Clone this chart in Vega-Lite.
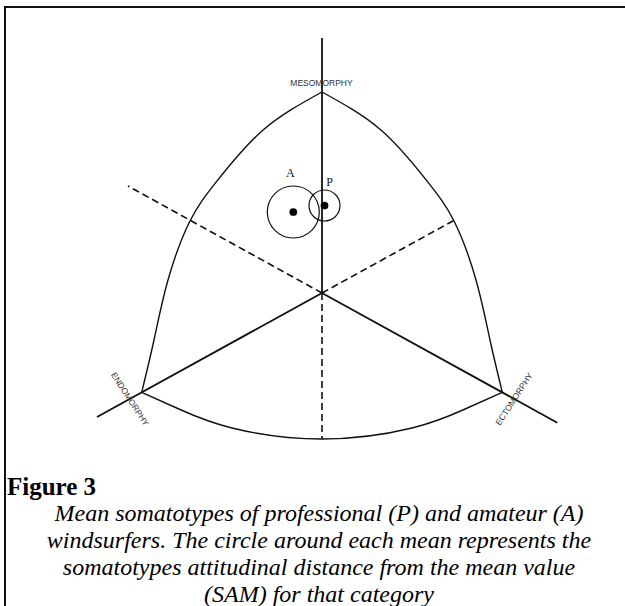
{
  "$schema": "https://vega.github.io/schema/vega-lite/v6.json",
  "width": 625,
  "height": 606,
  "autosize": {"type": "none"},
  "padding": 0,
  "background": "white",
  "config": {"view": {"stroke": null}},
  "datasets": {
    "solid": [
      {"seg": "meso", "i": 0, "x": 0, "y": 12.75},
      {"seg": "meso", "i": 1, "x": 0, "y": 0},
      {"seg": "endo", "i": 0, "x": -11.25, "y": -6.2},
      {"seg": "endo", "i": 1, "x": 0, "y": 0},
      {"seg": "ecto", "i": 0, "x": 0, "y": 0},
      {"seg": "ecto", "i": 1, "x": 11.765, "y": -6.485}
    ],
    "dashed": [
      {"seg": "ul", "i": 0, "x": 0, "y": 0},
      {"seg": "ul", "i": 1, "x": -9.7, "y": 5.35},
      {"seg": "ur", "i": 0, "x": 0, "y": 0},
      {"seg": "ur", "i": 1, "x": 6.65, "y": 3.66},
      {"seg": "down", "i": 0, "x": 0, "y": 0},
      {"seg": "down", "i": 1, "x": 0, "y": -7.3}
    ],
    "arcs": [
      {"seg": "L", "i": 0, "x": 0, "y": 10.05},
      {"seg": "L", "i": 1, "x": -2.945, "y": 8.15},
      {"seg": "L", "i": 2, "x": -5.21, "y": 5.65},
      {"seg": "L", "i": 3, "x": -6.6, "y": 3.6},
      {"seg": "L", "i": 4, "x": -7.7, "y": 0.65},
      {"seg": "L", "i": 5, "x": -8.4, "y": -2.35},
      {"seg": "L", "i": 6, "x": -9.015, "y": -4.965},
      {"seg": "R", "i": 0, "x": 0, "y": 10.05},
      {"seg": "R", "i": 1, "x": 2.945, "y": 8.15},
      {"seg": "R", "i": 2, "x": 5.21, "y": 5.65},
      {"seg": "R", "i": 3, "x": 6.6, "y": 3.6},
      {"seg": "R", "i": 4, "x": 7.7, "y": 0.65},
      {"seg": "R", "i": 5, "x": 8.4, "y": -2.35},
      {"seg": "R", "i": 6, "x": 9.015, "y": -4.965},
      {"seg": "B", "i": 0, "x": -9.015, "y": -4.965},
      {"seg": "B", "i": 1, "x": -7.1, "y": -5.825},
      {"seg": "B", "i": 2, "x": -4.5, "y": -6.75},
      {"seg": "B", "i": 3, "x": 0, "y": -7.3},
      {"seg": "B", "i": 4, "x": 4.5, "y": -6.75},
      {"seg": "B", "i": 5, "x": 7.1, "y": -5.825},
      {"seg": "B", "i": 6, "x": 9.015, "y": -4.965}
    ],
    "means": [
      {"group": "A", "x": -1.435, "y": 4.05, "sam": 1.3},
      {"group": "P", "x": 0.125, "y": 4.375, "sam": 0.775}
    ]
  },
  "layer": [
    {
      "data": {"values": [{"k": 1}]},
      "mark": {"type": "rect", "filled": false, "stroke": "#111", "strokeWidth": 2},
      "encoding": {
        "x": {"datum": -15.85, "type": "quantitative", "scale": {"domain": [-16.1, 15.15], "nice": false, "zero": false}, "axis": null},
        "x2": {"datum": 16.5},
        "y": {"datum": 14.3, "type": "quantitative", "scale": {"domain": [-15.65, 14.65], "nice": false, "zero": false}, "axis": null},
        "y2": {"datum": -16.5}
      }
    },
    {
      "data": {"name": "arcs"},
      "mark": {"type": "line", "interpolate": "natural", "stroke": "#111", "strokeWidth": 1.4},
      "encoding": {
        "x": {"field": "x", "type": "quantitative", "scale": {"domain": [-16.1, 15.15], "nice": false, "zero": false}, "axis": null},
        "y": {"field": "y", "type": "quantitative", "scale": {"domain": [-15.65, 14.65], "nice": false, "zero": false}, "axis": null},
        "detail": {"field": "seg"},
        "order": {"field": "i"}
      }
    },
    {
      "data": {"name": "solid"},
      "mark": {"type": "line", "stroke": "#111", "strokeWidth": 1.8},
      "encoding": {
        "x": {"field": "x", "type": "quantitative", "scale": {"domain": [-16.1, 15.15], "nice": false, "zero": false}, "axis": null},
        "y": {"field": "y", "type": "quantitative", "scale": {"domain": [-15.65, 14.65], "nice": false, "zero": false}, "axis": null},
        "detail": {"field": "seg"},
        "order": {"field": "i"}
      }
    },
    {
      "data": {"name": "dashed"},
      "mark": {"type": "line", "stroke": "#111", "strokeWidth": 1.6, "strokeDash": [7, 4]},
      "encoding": {
        "x": {"field": "x", "type": "quantitative", "scale": {"domain": [-16.1, 15.15], "nice": false, "zero": false}, "axis": null},
        "y": {"field": "y", "type": "quantitative", "scale": {"domain": [-15.65, 14.65], "nice": false, "zero": false}, "axis": null},
        "detail": {"field": "seg"},
        "order": {"field": "i"}
      }
    },
    {
      "data": {"name": "means"},
      "mark": {"type": "point", "shape": "circle", "filled": false, "stroke": "#111", "strokeWidth": 1.2, "opacity": 1},
      "encoding": {
        "x": {"field": "x", "type": "quantitative", "scale": {"domain": [-16.1, 15.15], "nice": false, "zero": false}, "axis": null},
        "y": {"field": "y", "type": "quantitative", "scale": {"domain": [-15.65, 14.65], "nice": false, "zero": false}, "axis": null},
        "size": {"field": "sam", "type": "quantitative", "scale": {"type": "pow", "exponent": 2, "domain": [0, 1.3], "range": [0, 2704]}, "legend": null}
      }
    },
    {
      "data": {"name": "means"},
      "mark": {"type": "point", "shape": "circle", "filled": true, "color": "#000", "size": 60, "opacity": 1},
      "encoding": {
        "x": {"field": "x", "type": "quantitative", "scale": {"domain": [-16.1, 15.15], "nice": false, "zero": false}, "axis": null},
        "y": {"field": "y", "type": "quantitative", "scale": {"domain": [-15.65, 14.65], "nice": false, "zero": false}, "axis": null}
      }
    },
    {
      "data": {"name": "means"},
      "transform": [{"filter": "datum.group === 'A'"}],
      "mark": {"type": "text", "font": "Liberation Serif", "fontSize": 12, "color": "#111", "dx": -3, "dy": -39, "baseline": "middle"},
      "encoding": {
        "x": {"field": "x", "type": "quantitative", "scale": {"domain": [-16.1, 15.15], "nice": false, "zero": false}, "axis": null},
        "y": {"field": "y", "type": "quantitative", "scale": {"domain": [-15.65, 14.65], "nice": false, "zero": false}, "axis": null},
        "text": {"field": "group"}
      }
    },
    {
      "data": {"name": "means"},
      "transform": [{"filter": "datum.group === 'P'"}],
      "mark": {"type": "text", "font": "Liberation Serif", "fontSize": 12, "color": "#111", "dx": 5, "dy": -24, "baseline": "middle"},
      "encoding": {
        "x": {"field": "x", "type": "quantitative", "scale": {"domain": [-16.1, 15.15], "nice": false, "zero": false}, "axis": null},
        "y": {"field": "y", "type": "quantitative", "scale": {"domain": [-15.65, 14.65], "nice": false, "zero": false}, "axis": null},
        "text": {"field": "group"}
      }
    },
    {
      "data": {"values": [{"k": 1}]},
      "mark": {"type": "text", "font": "Liberation Sans", "fontSize": 8.5, "color": "#333", "baseline": "middle", "align": "center", "text": "MESOMORPHY"},
      "encoding": {
        "x": {"datum": -0.025, "type": "quantitative", "scale": {"domain": [-16.1, 15.15], "nice": false, "zero": false}, "axis": null},
        "y": {"datum": 10.5, "type": "quantitative", "scale": {"domain": [-15.65, 14.65], "nice": false, "zero": false}, "axis": null}
      }
    },
    {
      "data": {"values": [{"k": 1}]},
      "mark": {"type": "text", "font": "Liberation Sans", "fontSize": 8.5, "color": "#333", "baseline": "middle", "align": "center", "angle": 57, "text": "ENDOMORPHY"},
      "encoding": {
        "x": {"datum": -9.6, "type": "quantitative", "scale": {"domain": [-16.1, 15.15], "nice": false, "zero": false}, "axis": null},
        "y": {"datum": -5.3, "type": "quantitative", "scale": {"domain": [-15.65, 14.65], "nice": false, "zero": false}, "axis": null}
      }
    },
    {
      "data": {"values": [{"k": 1}]},
      "mark": {"type": "text", "font": "Liberation Sans", "fontSize": 8.5, "color": "#333", "baseline": "middle", "align": "center", "angle": -57, "text": "ECTOMORPHY"},
      "encoding": {
        "x": {"datum": 9.6, "type": "quantitative", "scale": {"domain": [-16.1, 15.15], "nice": false, "zero": false}, "axis": null},
        "y": {"datum": -5.3, "type": "quantitative", "scale": {"domain": [-15.65, 14.65], "nice": false, "zero": false}, "axis": null}
      }
    },
    {
      "data": {"values": [{"k": 1}]},
      "mark": {"type": "text", "font": "Liberation Serif", "fontSize": 25, "fontWeight": "bold", "color": "#000", "baseline": "alphabetic", "align": "left", "text": "Figure 3"},
      "encoding": {
        "x": {"datum": -15.75, "type": "quantitative", "scale": {"domain": [-16.1, 15.15], "nice": false, "zero": false}, "axis": null},
        "y": {"datum": -10.1, "type": "quantitative", "scale": {"domain": [-15.65, 14.65], "nice": false, "zero": false}, "axis": null}
      }
    },
    {
      "data": {"values": [{"k": 1}]},
      "mark": {"type": "text", "font": "Liberation Serif", "fontSize": 24, "fontStyle": "italic", "color": "#000", "baseline": "alphabetic", "align": "center", "lineHeight": 27,
        "text": ["Mean somatotypes of professional (P) and amateur (A)", "windsurfers. The circle around each mean represents the", "somatotypes attitudinal distance from the mean value", "(SAM) for that category"]},
      "encoding": {
        "x": {"datum": -0.15, "type": "quantitative", "scale": {"domain": [-16.1, 15.15], "nice": false, "zero": false}, "axis": null},
        "y": {"datum": -11.4, "type": "quantitative", "scale": {"domain": [-15.65, 14.65], "nice": false, "zero": false}, "axis": null}
      }
    }
  ]
}
